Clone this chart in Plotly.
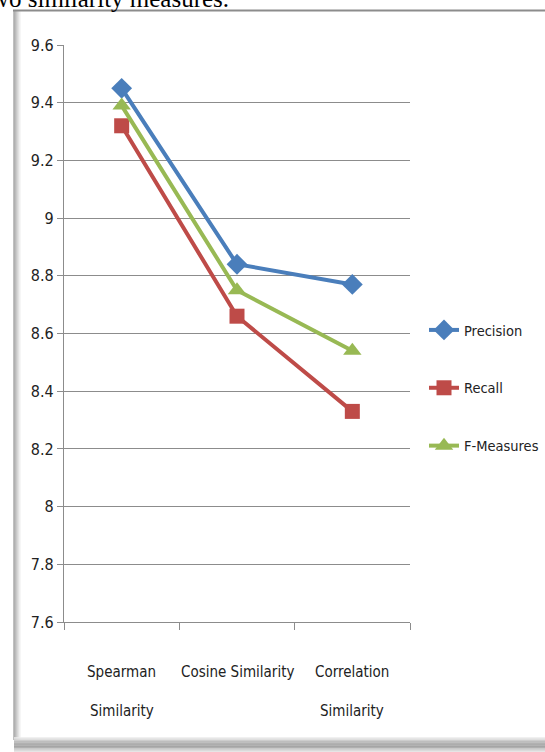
import plotly.graph_objects as go

# Similarity measures compared and the scores obtained for each metric
categories = ["Spearman Similarity", "Cosine Similarity", "Correlation Similarity"]
category_lines = [["Spearman", "Similarity"], ["Cosine Similarity"], ["Correlation", "Similarity"]]
precision = [9.45, 8.84, 8.77]
recall = [9.32, 8.66, 8.33]
f_measures = [9.39, 8.75, 8.54]
y_ticks = [7.6, 7.8, 8.0, 8.2, 8.4, 8.6, 8.8, 9.0, 9.2, 9.4, 9.6]
y_tick_labels = ["7.6", "7.8", "8", "8.2", "8.4", "8.6", "8.8", "9", "9.2", "9.4", "9.6"]

W, H = 545, 752
L, R, T, B = 64, 135, 45, 130
PW, PH = W - L - R, H - T - B

def px(x):
    return (x - L) / PW

def py(y):
    return (H - B - y) / PH

FONT = "DejaVu Sans Condensed, Liberation Sans Narrow, Arial Narrow, sans-serif"

series = [
    ("Precision", precision, "#4A7EBB", "diamond", 16),
    ("Recall", recall, "#BE4B48", "square", 15),
    ("F-Measures", f_measures, "#98B954", "triangle-up", 16),
]

fig = go.Figure()
for i, (name, vals, color, symbol, size) in enumerate(series):
    fig.add_trace(go.Scatter(
        x=categories, y=vals, name=name, mode="lines+markers",
        line=dict(color=color, width=4),
        marker=dict(symbol=symbol, size=size, color=color),
        legendgroup=f"g{i}",
    ))

shapes = []
# frame around the chart: soft shadow on the left and bottom, thin line on top
for k, g in enumerate([150, 165, 180, 195, 210, 225, 240]):
    shapes.append(dict(type="line", xref="paper", yref="paper",
                       x0=px(14 + k), x1=px(14 + k), y0=py(11), y1=py(740),
                       line=dict(color=f"rgb({g},{g},{g})", width=1.2)))
shapes.append(dict(type="line", xref="paper", yref="paper",
                   x0=px(13), x1=px(560), y0=py(10.5), y1=py(10.5),
                   line=dict(color="rgb(140,140,140)", width=2)))
for k, g in enumerate([235, 220, 205, 190, 175, 165, 160, 165, 175, 190, 205, 220]):
    shapes.append(dict(type="line", xref="paper", yref="paper",
                       x0=px(14), x1=px(560), y0=py(738 + k * 1.2), y1=py(738 + k * 1.2),
                       line=dict(color=f"rgb({g},{g},{g})", width=1.3)))

annotations = []
for cat, lines in zip(categories, category_lines):
    for j, ln in enumerate(lines):
        annotations.append(dict(x=cat, xref="x", yref="paper", y=py(672 + 39 * j),
                                text=ln, showarrow=False, xanchor="center", yanchor="middle",
                                font=dict(family=FONT, size=15, color="#222222")))
annotations.append(dict(x=px(231), y=py(-2), xref="paper", yref="paper",
                        text="two similarity measures.", showarrow=False,
                        xanchor="right", yanchor="middle",
                        font=dict(family="Liberation Serif, Times New Roman, serif", size=25,
                                  color="#000000")))

fig.update_layout(
    width=W, height=H,
    margin=dict(l=L, r=R, t=T, b=B, autoexpand=False),
    paper_bgcolor="white", plot_bgcolor="white",
    showlegend=True,
    legend=dict(x=px(424), y=py(314), xanchor="left", yanchor="top",
                font=dict(family=FONT, size=14.5, color="#222222"),
                tracegroupgap=36, itemwidth=30, bgcolor="rgba(0,0,0,0)"),
    xaxis=dict(type="category", categoryorder="array", categoryarray=categories,
               showgrid=False, showline=True, linecolor="#8c8c8c", linewidth=1.2,
               ticks="outside", tickson="boundaries", ticklen=7, tickcolor="#8c8c8c",
               showticklabels=False, range=[-0.5, 2.5], fixedrange=True),
    yaxis=dict(range=[7.6, 9.6], tickvals=y_ticks, ticktext=y_tick_labels,
               showgrid=True, gridcolor="#8c8c8c", gridwidth=1.2,
               showline=True, linecolor="#8c8c8c", linewidth=1.2,
               ticks="outside", ticklen=6, tickcolor="#8c8c8c",
               tickfont=dict(family=FONT, size=16, color="#222222"),
               zeroline=False, fixedrange=True),
    shapes=shapes,
    annotations=annotations,
)

fig.write_html("out.html")
